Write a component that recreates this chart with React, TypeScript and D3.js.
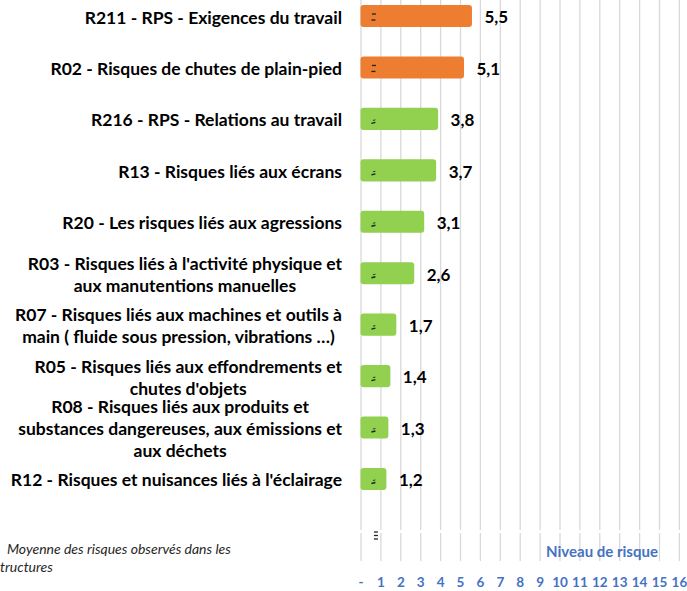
import React, { useEffect, useRef } from "react";
import * as d3 from "d3";

const categoryLines: string[][] = [
  ["R211 - RPS - Exigences du travail"],
  ["R02 - Risques de chutes de plain-pied"],
  ["R216 - RPS - Relations au travail"],
  ["R13 - Risques liés aux écrans"],
  ["R20 - Les risques liés aux agressions"],
  ["R03 - Risques liés à l'activité physique et", "aux manutentions manuelles"],
  ["R07 - Risques liés aux machines et outils à", "main ( fluide sous pression, vibrations …)"],
  ["R05 - Risques liés aux effondrements et", "chutes d'objets"],
  ["R08 - Risques liés aux produits et", "substances dangereuses, aux émissions et", "aux déchets"],
  ["R12 - Risques et nuisances liés à l'éclairage"],
];
const riskValues: number[] = [5.5, 5.1, 3.8, 3.7, 3.1, 2.6, 1.7, 1.4, 1.3, 1.2];
const averageValues: number[] = [0.65, 0.65, 0.65, 0.65, 0.65, 0.65, 0.65, 0.65, 0.65, 0.65];
const tickValues: number[] = [0, 1, 2, 3, 4, 5, 6, 7, 8, 9, 10, 11, 12, 13, 14, 15, 16];
const tickLabels: string[] = ["-", "1", "2", "3", "4", "5", "6", "7", "8", "9", "10", "11", "12", "13", "14", "15", "16"];
const axisTitle = "Niveau de risque";
const legendLines: string[] = ["Moyenne des risques observés dans les", "structures"];

const W = 687;
const H = 591;
const FONT = "Lato, 'Noto Sans', sans-serif";
const ORANGE = "#ED7D31";
const GREEN = "#92D050";
const BLUE = "#4472C4";
const GRID = "#D9D9D9";

export default function App() {
  const ref = useRef<SVGSVGElement | null>(null);

  useEffect(() => {
    const svg = d3.select(ref.current!);
    svg.selectAll("*").remove();

    const ids = categoryLines.map((_, i) => String(i));
    const x = d3.scaleLinear().domain([0, 16]).range([361, 679.4]);
    const y = d3.scaleBand().domain(ids).range([-9.7, 504.7]).paddingInner(0.57).paddingOuter(0.285);
    const bw = y.bandwidth();

    // gridlines
    const g = svg.append("g");
    tickValues.forEach((t) => {
      g.append("line").attr("x1", x(t)).attr("x2", x(t)).attr("y1", 0).attr("y2", 530)
        .attr("stroke", GRID).attr("stroke-width", 1.3);
      g.append("line").attr("x1", x(t)).attr("x2", x(t)).attr("y1", 533).attr("y2", 561)
        .attr("stroke", GRID).attr("stroke-width", 1.3);
    });

    // bars
    riskValues.forEach((v, i) => {
      const color = v >= 4 ? ORANGE : GREEN;
      const y0 = y(String(i))!;
      svg.append("rect")
        .attr("x", x(0) - 0.5).attr("y", y0)
        .attr("width", x(v) - x(0) + 2).attr("height", bw)
        .attr("rx", 3).attr("fill", color);
      // average marker
      const mx = x(averageValues[i]);
      const cy = y0 + bw / 2;
      if (v >= 4) {
        svg.append("line").attr("x1", mx - 2).attr("x2", mx + 2).attr("y1", cy - 2).attr("y2", cy - 2)
          .attr("stroke", "#222").attr("stroke-width", 1.3);
        svg.append("line").attr("x1", mx - 2.5).attr("x2", mx + 1.5).attr("y1", cy + 4).attr("y2", cy + 4)
          .attr("stroke", "#222").attr("stroke-width", 1.3);
      } else {
        svg.append("line").attr("x1", mx - 1).attr("x2", mx + 1.5).attr("y1", cy + 1.5).attr("y2", cy + 1)
          .attr("stroke", "#333").attr("stroke-width", 1);
        svg.append("line").attr("x1", mx - 2.5).attr("x2", mx + 1.5).attr("y1", cy + 4.5).attr("y2", cy + 3.5)
          .attr("stroke", "#222").attr("stroke-width", 1.4);
      }
      // value label
      svg.append("text").attr("x", x(v) + 14).attr("y", cy + 7.3)
        .attr("font-family", FONT).attr("font-weight", 700).attr("font-size", 17)
        .attr("fill", "#000").text(String(v).replace(".", ","));
    });

    // category labels
    const LH = 22;
    categoryLines.forEach((lines, i) => {
      const cy = y(String(i))! + bw / 2;
      const t = svg.append("text")
        .attr("font-family", FONT).attr("font-weight", 700).attr("font-size", 17.5)
        .attr("fill", "#000").attr("text-anchor", "middle");
      const n = lines.length;
      const spans = lines.map((line, k) =>
        t.append("tspan").attr("y", cy + 7.5 + (k - (n - 1) / 2) * LH).text(line)
      );
      let maxW = 0;
      spans.forEach((s) => {
        const w = (s.node() as SVGTSpanElement).getComputedTextLength();
        if (w > maxW) maxW = w;
      });
      spans.forEach((s) => s.attr("x", 342 - maxW / 2));
    });

    // tick labels
    tickValues.forEach((t, i) => {
      svg.append("text").attr("x", x(t)).attr("y", 587)
        .attr("text-anchor", "middle")
        .attr("font-family", FONT).attr("font-weight", 700).attr("font-size", 13.5)
        .attr("fill", BLUE).text(tickLabels[i]);
    });

    // axis title
    svg.append("text").attr("x", 602).attr("y", 556.5).attr("text-anchor", "middle")
      .attr("font-family", FONT).attr("font-weight", 700).attr("font-size", 15)
      .attr("fill", BLUE).text(axisTitle);

    // legend marker
    const lx = x(0.75);
    [532, 535.5, 539].forEach((yy) => {
      svg.append("line").attr("x1", lx - 2).attr("x2", lx + 2).attr("y1", yy).attr("y2", yy)
        .attr("stroke", "#222").attr("stroke-width", 1.3);
    });

    // legend text
    svg.append("text").attr("x", 7).attr("y", 554)
      .attr("font-family", FONT).attr("font-style", "italic").attr("font-size", 14)
      .attr("fill", "#262626").text(legendLines[0]);
    svg.append("text").attr("x", -5.5).attr("y", 571.5)
      .attr("font-family", FONT).attr("font-style", "italic").attr("font-size", 14)
      .attr("fill", "#262626").text(legendLines[1]);
  }, []);

  return (
    <svg
      ref={ref}
      width={W}
      height={H}
      style={{ position: "absolute", left: 0, top: 0, background: "#fff" }}
    />
  );
}
